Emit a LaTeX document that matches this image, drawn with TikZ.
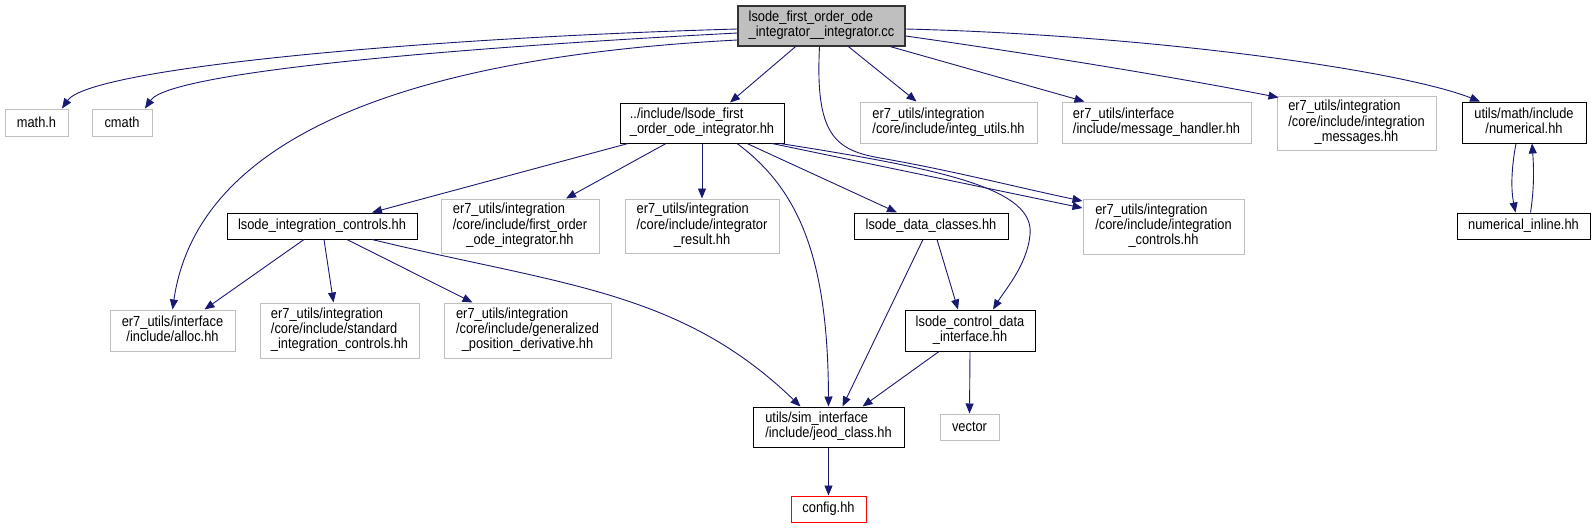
\documentclass[tikz,border=0pt]{standalone}
\usepackage{fontspec}
\setmainfont{Liberation Sans}[FakeStretch=0.88]
\usetikzlibrary{arrows.meta,calc}
\definecolor{navy}{HTML}{191970}
\definecolor{lgray}{HTML}{BFBFBF}
\newcommand{\twol}[2]{\begin{tabular}{@{}l@{}}#1\\\multicolumn{1}{@{}c@{}}{#2}\end{tabular}}
\newcommand{\threel}[3]{\begin{tabular}{@{}l@{}}#1\\#2\\\multicolumn{1}{@{}c@{}}{#3}\end{tabular}}
\tikzset{
  box/.style={line width=1pt, inner sep=0pt, anchor=center, fill=white},
  bk/.style={box, draw=black},
  gr/.style={box, draw=lgray},
  rd/.style={box, draw=red},
  rootbox/.style={box, draw=black!80, fill=lgray, line width=1.3pt},
  edge/.style={draw=navy, line width=0.9pt, -{Triangle[length=10pt,width=8pt]}},
}
\begin{document}
\begin{tikzpicture}[x=1pt, y=-1pt, font=\fontsize{14.6}{15}\selectfont]
\useasboundingbox (0,0) rectangle (1595,528);
% nodes
\node[rootbox, minimum width=167pt, minimum height=40pt] (root) at (821.5,26) {\twol{lsode\_first\_order\_ode}{\_integrator\_\_integrator.cc}};
\node[gr, minimum width=63pt, minimum height=27pt] (math) at (36.5,122.5) {math.h};
\node[gr, minimum width=60pt, minimum height=27pt] (cmath) at (122,122.5) {cmath};
\node[bk, minimum width=164pt, minimum height=40pt] (inc) at (702,123) {\twol{../include/lsode\_first}{\_order\_ode\_integrator.hh}};
\node[gr, minimum width=177pt, minimum height=41pt] (integ) at (948.5,122.5) {\twol{er7\_utils/integration}{/core/include/integ\_utils.hh}};
\node[gr, minimum width=189pt, minimum height=41pt] (msgh) at (1156.5,122.5) {\twol{er7\_utils/interface}{/include/message\_handler.hh}};
\node[gr, minimum width=159pt, minimum height=54pt] (msgs) at (1356.5,123) {\threel{er7\_utils/integration}{/core/include/integration}{\_messages.hh}};
\node[bk, minimum width=124pt, minimum height=41pt] (num) at (1524,122.5) {\twol{utils/math/include}{/numerical.hh}};
\node[bk, minimum width=190pt, minimum height=26pt] (lic) at (322,226) {lsode\_integration\_controls.hh};
\node[gr, minimum width=158pt, minimum height=54pt] (fo) at (520,226) {\threel{er7\_utils/integration}{/core/include/first\_order}{\_ode\_integrator.hh}};
\node[gr, minimum width=154pt, minimum height=54pt] (ires) at (702,226) {\threel{er7\_utils/integration}{/core/include/integrator}{\_result.hh}};
\node[bk, minimum width=154pt, minimum height=26pt] (ldc) at (931,226) {lsode\_data\_classes.hh};
\node[gr, minimum width=161pt, minimum height=55pt] (ic) at (1163.5,226.5) {\threel{er7\_utils/integration}{/core/include/integration}{\_controls.hh}};
\node[bk, minimum width=133pt, minimum height=26pt] (numi) at (1523.5,226) {numerical\_inline.hh};
\node[gr, minimum width=125pt, minimum height=41pt] (alloc) at (172.5,330.5) {\twol{er7\_utils/interface}{/include/alloc.hh}};
\node[gr, minimum width=159pt, minimum height=55pt] (std) at (339.5,330.5) {\threel{er7\_utils/integration}{/core/include/standard}{\_integration\_controls.hh}};
\node[gr, minimum width=167pt, minimum height=55pt] (gen) at (527.5,330.5) {\threel{er7\_utils/integration}{/core/include/generalized}{\_position\_derivative.hh}};
\node[bk, minimum width=130pt, minimum height=41pt] (lcdi) at (970,330.5) {\twol{lsode\_control\_data}{\_interface.hh}};
\node[bk, minimum width=151pt, minimum height=40pt] (jeod) at (828.5,427) {\twol{utils/sim\_interface}{/include/jeod\_class.hh}};
\node[gr, minimum width=59pt, minimum height=26pt] (vec) at (969.5,427) {vector};
\node[rd, minimum width=75pt, minimum height=26pt] (cfg) at (828.5,509) {config.hh};
% edges from root
\draw[edge] ($(root.west)+(0,3)$) .. controls (420,38) and (90,68) .. ($(math.north)+(25.5,0)$);
\draw[edge] ($(root.west)+(0,7)$) .. controls (450,48) and (170,72) .. ($(cmath.north)+(23,0)$);
\draw[edge] ($(root.west)+(0,14)$) .. controls (450,55) and (200,120) .. (alloc.north);
\draw[edge] ($(root.south)+(-26,0)$) -- ($(inc.north)+(28,0)$);
\draw[edge] ($(root.south)+(27,0)$) -- ($(integ.north)+(-32,0)$);
\draw[edge] ($(root.south)+(69,0)$) -- ($(msgh.north)+(-72,0)$);
\draw[edge] ($(root.east)+(0,10)$) .. controls (1040,55) and (1180,78) .. ($(msgs.north west)+(2,2)$);
\draw[edge] ($(root.east)+(0,3)$) .. controls (1150,35) and (1400,70) .. ($(num.north)+(-44,0)$);
\draw[edge] ($(root.south)+(-2,0)$) .. controls (815,135) and (835,150) .. (880,158) .. controls (950,170) and (1020,188) .. ($(ic.west)+(0,-25.5)$);
% edges from ../include
\draw[edge] ($(inc.south)+(-74,0)$) -- ($(lic.north)+(50,0)$);
\draw[edge] ($(inc.south)+(-36,0)$) -- ($(fo.north)+(46,0)$);
\draw[edge] (inc.south) -- (ires.north);
\draw[edge] ($(inc.south)+(35,0)$) .. controls (800,190) and (828,260) .. (jeod.north);
\draw[edge] ($(inc.south)+(45,0)$) -- ($(ldc.north)+(-34,0)$);
\draw[edge] ($(inc.south)+(70,0)$) -- ($(ic.west)+(0,-18.5)$);
\draw[edge] ($(inc.south)+(78,0)$) .. controls (950,170) and (1035,190) .. (1030,235) .. controls (1027,265) and (1005,290) .. ($(lcdi.north)+(23,0)$);
% edges from lsode_integration_controls
\draw[edge] ($(lic.south)+(-18,0)$) -- ($(alloc.north)+(32,0)$);
\draw[edge] ($(lic.south)+(2,0)$) -- ($(std.north)+(-6,0)$);
\draw[edge] ($(lic.south)+(25,0)$) -- ($(gen.north)+(-55,0)$);
\draw[edge] ($(lic.south)+(50,0)$) .. controls (560,285) and (680,290) .. ($(jeod.north)+(-28,0)$);
% lsode_data_classes
\draw[edge] ($(ldc.south)+(-8,0)$) -- ($(jeod.north)+(14,0)$);
\draw[edge] ($(ldc.south)+(6,0)$) -- ($(lcdi.north)+(-12,0)$);
% lsode_control_data_interface
\draw[edge] ($(lcdi.south)+(-31,0)$) -- ($(jeod.north)+(34,0)$);
\draw[edge] (lcdi.south) -- (vec.north);
% jeod
\draw[edge] (jeod.south) -- (cfg.north);
% numerical pair
\draw[edge] ($(num.south)+(-8,0)$) .. controls (1511,170) and (1511,190) .. ($(numi.north)+(-8,0)$);
\draw[edge] ($(numi.north)+(7,0)$) .. controls (1534,190) and (1534,170) .. ($(num.south)+(8,0)$);
\end{tikzpicture}
\end{document}
